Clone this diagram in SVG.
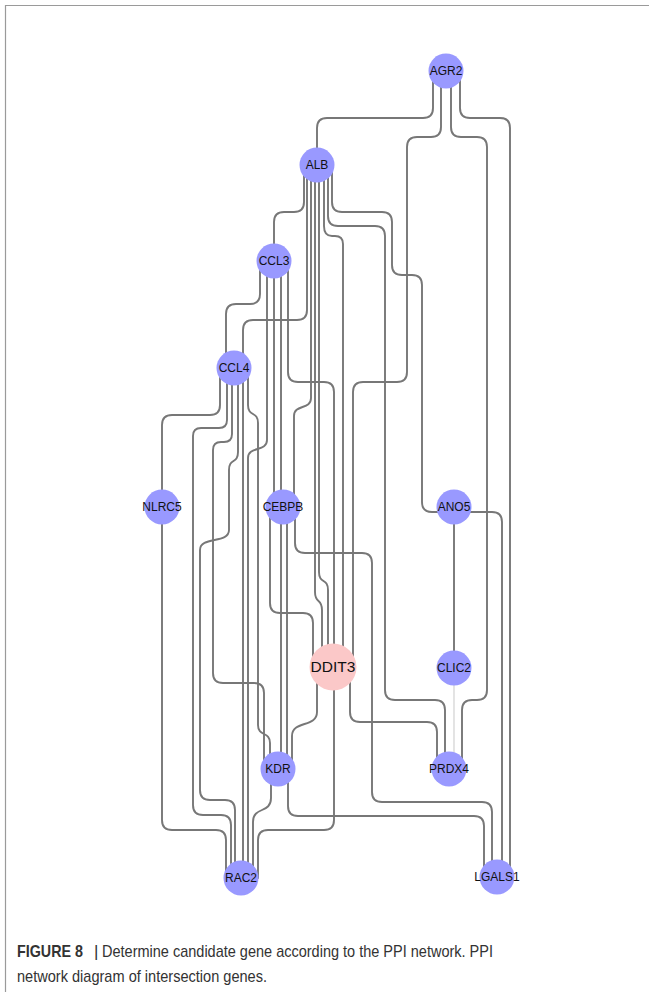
<svg xmlns="http://www.w3.org/2000/svg" width="649" height="992" viewBox="0 0 649 992">
<style>
.e{fill:none;stroke:#777;stroke-width:1.9;stroke-linecap:round}
.e.light{stroke:#d8d8d8;stroke-width:1.4}
.n{fill:#9999ff}
.n.hub{fill:#fbc8c8}
.l{font-family:"Liberation Sans",Arial,sans-serif;font-size:12px;fill:#111;text-anchor:middle}
.l.big{font-size:15.5px}
.cap{font-family:"Liberation Sans",Arial,sans-serif;font-size:17px;fill:#333}
</style>
<rect width="649" height="992" fill="#fff"/>
<path d="M649,5.5 H5.5 V992" fill="none" stroke="#9a9a9a" stroke-width="1.2"/>
<g id="connectors">
<path id="e-agr2-alb" class="e" d="M433,71 V108 Q433,118 423,118 H327 Q317,118 317,128 V165"/>
<path id="e-agr2-ddit3" class="e" d="M441,71 V127 Q441,137 431,137 H417 Q407,137 407,147 V372 Q407,382 397,382 H363 Q353,382 353,392 V667"/>
<path id="e-agr2-prdx4" class="e" d="M451,71 V127 Q451,137 461,137 H477 Q487,137 487,147 V690 Q487,700 477,700 H472 Q462,700 462,710 V769"/>
<path id="e-agr2-lgals1" class="e" d="M460,71 V108 Q460,118 470,118 H500 Q510,118 510,128 V877"/>
<path id="e-alb-ccl3" class="e" d="M304,165 V202 Q304,212 294,212 H284 Q274,212 274,222 V261"/>
<path id="e-alb-ccl4" class="e" d="M307,165 V310 Q307,320 297,320 H253 Q243,320 243,330 V368"/>
<path id="e-alb-cebpb" class="e" d="M311,165 V398 C311,410 294,404 294,416 V507"/>
<path id="e-alb-ddit3-a" class="e" d="M315,165 V592 C315,604 322,598 322,610 V667"/>
<path id="e-alb-ddit3-b" class="e" d="M319,165 V572 C319,584 328,578 328,590 V667"/>
<path id="e-alb-ddit3-c" class="e" d="M324,165 V226 Q324,236 332,236 H335 Q343,236 343,244 V667"/>
<path id="e-alb-prdx4" class="e" d="M328,165 V216 Q328,226 338,226 H375 Q385,226 385,236 V690 Q385,700 395,700 H435 Q445,700 445,710 V769"/>
<path id="e-alb-lgals1" class="e" d="M332,165 V202 Q332,212 342,212 H382 Q392,212 392,222 V265 Q392,275 402,275 H412 Q422,275 422,285 V502 Q422,512 432,512 H492 Q502,512 502,522 V877"/>
<path id="e-ccl3-ccl4" class="e" d="M260,261 V294 Q260,304 250,304 H236 Q226,304 226,314 V368"/>
<path id="e-ccl3-rac2" class="e" d="M267,261 V440 C267,452 248,446 248,458 V878"/>
<path id="e-ccl3-cebpb" class="e" d="M274,261 V507"/>
<path id="e-ccl3-kdr" class="e" d="M281,261 V769"/>
<path id="e-ccl3-ddit3" class="e" d="M288,261 V372 Q288,382 298,382 H324 Q334,382 334,392 V667"/>
<path id="e-ccl4-nlrc5" class="e" d="M220,368 V405 Q220,415 210,415 H172 Q162,415 162,425 V507"/>
<path id="e-ccl4-rac2-a" class="e" d="M227,368 V420 Q227,428 219,428 H201 Q193,428 193,436 V805 Q193,815 203,815 H221 Q231,815 231,825 V878"/>
<path id="e-ccl4-kdr-a" class="e" d="M232,368 V434 Q232,442 224,442 H221 Q213,442 213,450 V673 Q213,683 223,683 H254 Q264,683 264,693 V769"/>
<path id="e-ccl4-rac2-b" class="e" d="M238,368 V452 C238,464 229,458 229,470 V530 C229,544 200,536 200,550 V790 Q200,800 210,800 H225 Q235,800 235,810 V878"/>
<path id="e-ccl4-rac2-c" class="e" d="M243,368 V878"/>
<path id="e-ccl4-kdr-b" class="e" d="M248,368 V405 C248,417 258,411 258,423 V725 C258,737 270,731 270,743 V769"/>
<path id="e-nlrc5-rac2" class="e" d="M162,507 V820 Q162,830 172,830 H216 Q226,830 226,840 V878"/>
<path id="e-cebpb-ddit3" class="e" d="M270,507 V603 Q270,613 280,613 H303 Q313,613 313,623 V667"/>
<path id="e-cebpb-kdr" class="e" d="M287,507 V769"/>
<path id="e-cebpb-lgals1" class="e" d="M295,507 V543 Q295,553 305,553 H362 Q372,553 372,563 V792 Q372,802 382,802 H482 Q492,802 492,812 V877"/>
<path id="e-ddit3-kdr" class="e" d="M317,680 V712 C317,728 292,720 292,736 V769"/>
<path id="e-ddit3-rac2" class="e" d="M334,667 V820 Q334,830 324,830 H268 Q258,830 258,840 V878"/>
<path id="e-ddit3-prdx4" class="e" d="M350,667 V712 Q350,722 360,722 H427 Q437,722 437,732 V769"/>
<path id="e-kdr-rac2" class="e" d="M271,769 V798 C271,814 253,806 253,822 V878"/>
<path id="e-kdr-lgals1" class="e" d="M288,769 V806 Q288,816 298,816 H474 Q484,816 484,826 V877"/>
<path id="e-ano5-clic2" class="e" d="M454,507 V668"/>
<path id="e-clic2-prdx4" class="e light" d="M454,668 V769"/>
</g>
<g id="node-agr2"><circle class="n" cx="446" cy="71" r="17.5"/><text class="l" x="446" y="75">AGR2</text></g>
<g id="node-alb"><circle class="n" cx="317" cy="165" r="17.5"/><text class="l" x="317" y="169">ALB</text></g>
<g id="node-ccl3"><circle class="n" cx="274" cy="261" r="17.5"/><text class="l" x="274" y="265">CCL3</text></g>
<g id="node-ccl4"><circle class="n" cx="234" cy="368" r="17.5"/><text class="l" x="234" y="372">CCL4</text></g>
<g id="node-nlrc5"><circle class="n" cx="162" cy="507" r="17.5"/><text class="l" x="162" y="511">NLRC5</text></g>
<g id="node-cebpb"><circle class="n" cx="283" cy="507" r="17.5"/><text class="l" x="283" y="511">CEBPB</text></g>
<g id="node-ano5"><circle class="n" cx="454" cy="507" r="17.5"/><text class="l" x="454" y="511">ANO5</text></g>
<g id="node-ddit3"><circle class="n hub" cx="333" cy="667" r="23.5"/><text class="l big" x="333" y="672">DDIT3</text></g>
<g id="node-clic2"><circle class="n" cx="454" cy="668" r="17.5"/><text class="l" x="454" y="672">CLIC2</text></g>
<g id="node-kdr"><circle class="n" cx="278" cy="769" r="17.5"/><text class="l" x="278" y="773">KDR</text></g>
<g id="node-prdx4"><circle class="n" cx="449" cy="769" r="17.5"/><text class="l" x="449" y="773">PRDX4</text></g>
<g id="node-rac2"><circle class="n" cx="241" cy="878" r="17.5"/><text class="l" x="241" y="882">RAC2</text></g>
<g id="node-lgals1"><circle class="n" cx="497" cy="877" r="17.5"/><text class="l" x="497" y="881">LGALS1</text></g>
<g id="caption">
<text class="cap" x="17" y="957" font-weight="bold" fill="#222" textLength="66" lengthAdjust="spacingAndGlyphs">FIGURE 8</text>
<text class="cap" x="94" y="957" fill="#888">|</text>
<text class="cap" x="102" y="957" textLength="391" lengthAdjust="spacingAndGlyphs">Determine candidate gene according to the PPI network. PPI</text>
<text class="cap" x="17" y="982" textLength="250" lengthAdjust="spacingAndGlyphs">network diagram of intersection genes.</text>
</g>
</svg>
